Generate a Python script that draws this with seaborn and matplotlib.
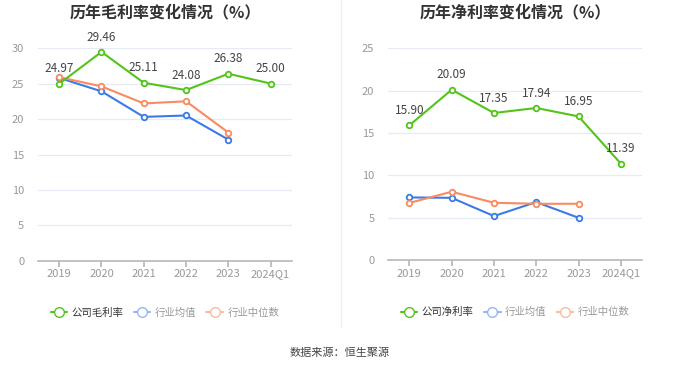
import matplotlib
matplotlib.use("Agg")
import matplotlib.pyplot as plt
import seaborn as sns
import pandas as pd
import numpy as np
from matplotlib.lines import Line2D

years = ["2019", "2020", "2021", "2022", "2023", "2024Q1"]

# gross margin (%)
gross_company = [24.97, 29.46, 25.11, 24.08, 26.38, 25.00]
gross_ind_avg = [25.8, 23.9, 20.3, 20.5, 17.1, np.nan]
gross_ind_median = [25.9, 24.6, 22.2, 22.5, 18.1, np.nan]

# net margin (%)
net_company = [15.90, 20.09, 17.35, 17.94, 16.95, 11.39]
net_ind_avg = [7.4, 7.35, 5.2, 6.85, 5.0, np.nan]
net_ind_median = [6.75, 8.07, 6.77, 6.65, 6.65, np.nan]

GREEN = "#52c41a"
BLUE = "#3b7be8"
ORANGE = "#fa8a5f"

sns.set_theme(style="white")
plt.rcParams['font.family'] = ['Noto Sans CJK SC', 'DejaVu Sans']


def draw_panel(ax, title, company, avg, median, company_name, ymax, step):
    x = np.arange(len(years))
    for vals, color in [(avg, BLUE), (median, ORANGE), (company, GREEN)]:
        df = pd.DataFrame({"x": x, "v": vals}).dropna()
        sns.lineplot(data=df, x="x", y="v", ax=ax, color=color, lw=1.5,
                     marker="o", markersize=4, markerfacecolor="white",
                     markeredgecolor=color, markeredgewidth=1.3, zorder=3)
    for xi, v in zip(x, company):
        ax.annotate(f"{v:.2f}", (xi, v), xytext=(0, 6), textcoords="offset points",
                    ha="center", va="bottom", fontsize=8.5, color="#444444")

    ax.set_xlim(-0.5, len(years) - 0.5)
    ax.set_ylim(0, ymax)
    ax.set_yticks(np.arange(0, ymax + 0.1, step))
    ax.set_xticks(x)
    ax.set_xticklabels(years)
    ax.set_xlabel("")
    ax.set_ylabel("")
    ax.grid(axis="y", color="#e6eaf4", lw=0.9)
    ax.set_axisbelow(True)
    for s in ["top", "right", "left"]:
        ax.spines[s].set_visible(False)
    ax.spines["bottom"].set_color("#b8b8b8")
    ax.spines["bottom"].set_linewidth(1.2)
    ax.tick_params(axis="x", colors="#999999", labelsize=8, length=4,
                   color="#b8b8b8", bottom=True, pad=2)
    ax.tick_params(axis="y", colors="#999999", labelsize=8, length=0, pad=10)
    ax.set_title(title, fontsize=11.5, fontweight="bold", color="#333333", pad=22)

    handles = [
        Line2D([], [], color=GREEN, marker="o", markersize=7, markerfacecolor="white", lw=1.5),
        Line2D([], [], color="#96b6f3", marker="o", markersize=7, markerfacecolor="white", lw=1.5),
        Line2D([], [], color="#fbbaa2", marker="o", markersize=7, markerfacecolor="white", lw=1.5),
    ]
    leg = ax.legend(handles, [company_name, "行业均值", "行业中位数"], ncol=3,
                    loc="upper center", bbox_to_anchor=(0.5, -0.177), frameon=False,
                    fontsize=7.5, handlelength=1.6, handletextpad=0.4, columnspacing=1.0)
    for t, c in zip(leg.get_texts(), ["#333333", "#999999", "#999999"]):
        t.set_color(c)


fig = plt.figure(figsize=(6.8, 3.67), dpi=100)
ax1 = fig.add_axes([0.056, 0.289, 0.373, 0.58])
ax2 = fig.add_axes([0.571, 0.291, 0.373, 0.578])

draw_panel(ax1, "历年毛利率变化情况（%）", gross_company, gross_ind_avg, gross_ind_median,
           "公司毛利率", 30, 5)
draw_panel(ax2, "历年净利率变化情况（%）", net_company, net_ind_avg, net_ind_median,
           "公司净利率", 25, 5)

fig.add_artist(Line2D([0.502, 0.502], [0.11, 1.0], transform=fig.transFigure,
                      color="#f0f0f0", lw=1))
fig.text(0.5, 0.04, "数据来源：恒生聚源", ha="center", va="center",
         fontsize=8, color="#444444")

fig.savefig("out.png", dpi=100)
